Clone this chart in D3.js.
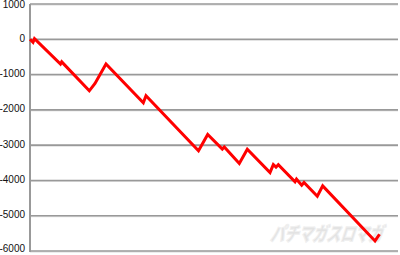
<!DOCTYPE html>
<html>
<head>
<meta charset="utf-8">
<script src="https://cdn.jsdelivr.net/npm/d3@7"></script>
<style>
  body { margin: 0; background: #fff; }
  svg { display: block; }
</style>
</head>
<body>
<svg id="chart" width="400" height="255"></svg>
<script>
// games played (x) and balance in medals (y)
let games = [0, 60, 90, 610, 634, 1186, 1300, 1520, 2266, 2320, 3370, 3554, 3846, 3886,
  4186, 4346, 4800, 4866, 4920, 4966, 5300, 5330, 5434, 5480, 5746, 5854, 6900, 6990];
let balance = [0, -85, 20, -700, -640, -1460, -1250, -700, -1800, -1600, -3160, -2700, -3110, -3050,
  -3520, -3115, -3775, -3550, -3625, -3555, -4040, -3965, -4135, -4060, -4450, -4155, -5715, -5525];
let yTicks = [1000, 0, -1000, -2000, -3000, -4000, -5000, -6000];

let svg = d3.select("#chart");

let x = d3.scaleLinear()
  .domain([0, 7360])
  .range([30, 398]);
let y = d3.scaleLinear()
  .domain([-6000, 1000])
  .range([251, 4]);

// gridlines
for (var t of yTicks) {
  svg.append("line")
    .attr("x1", 30)
    .attr("x2", 398)
    .attr("y1", y(t) + 1)
    .attr("y2", y(t) + 1)
    .style("stroke", "#dcdcdc")
    .style("stroke-width", 1);
  svg.append("line")
    .attr("x1", 30)
    .attr("x2", 398)
    .attr("y1", y(t))
    .attr("y2", y(t))
    .style("stroke", "#999")
    .style("stroke-width", 1.6);

  // keep the top and bottom labels inside the window
  let ly = Math.min(Math.max(y(t), 5.5), 249.5);
  svg.append("text")
    .attr("x", 25)
    .attr("y", ly)
    .text(t)
    .style("text-anchor", "end")
    .style("dominant-baseline", "middle")
    .style("font-family", "Liberation Sans, Arial, sans-serif")
    .style("font-size", 10)
    .style("fill", "#111");
}

// left axis
svg.append("line")
  .attr("x1", 30)
  .attr("x2", 30)
  .attr("y1", y(1000))
  .attr("y2", y(-6000) + 1)
  .style("stroke", "#999")
  .style("stroke-width", 2);

// watermark
svg.append("text")
  .attr("transform", "translate(270,241) skewX(-18) scale(1,1.4)")
  .text("パチマガスロマガ")
  .style("font-family", "Noto Sans CJK JP")
  .style("font-weight", "900")
  .style("font-size", 14)
  .style("fill", "#e3e3e3")
  .style("stroke", "#f0f0f0")
  .style("stroke-width", 0.8);

// balance line
let line = d3.line()
  .x((d, i) => x(games[i]))
  .y(d => y(d));

svg.append("path")
  .attr("d", line(balance))
  .style("fill", "none")
  .style("stroke", "#ff0000")
  .style("stroke-width", 3)
  .style("stroke-linejoin", "miter");
</script>
</body>
</html>
